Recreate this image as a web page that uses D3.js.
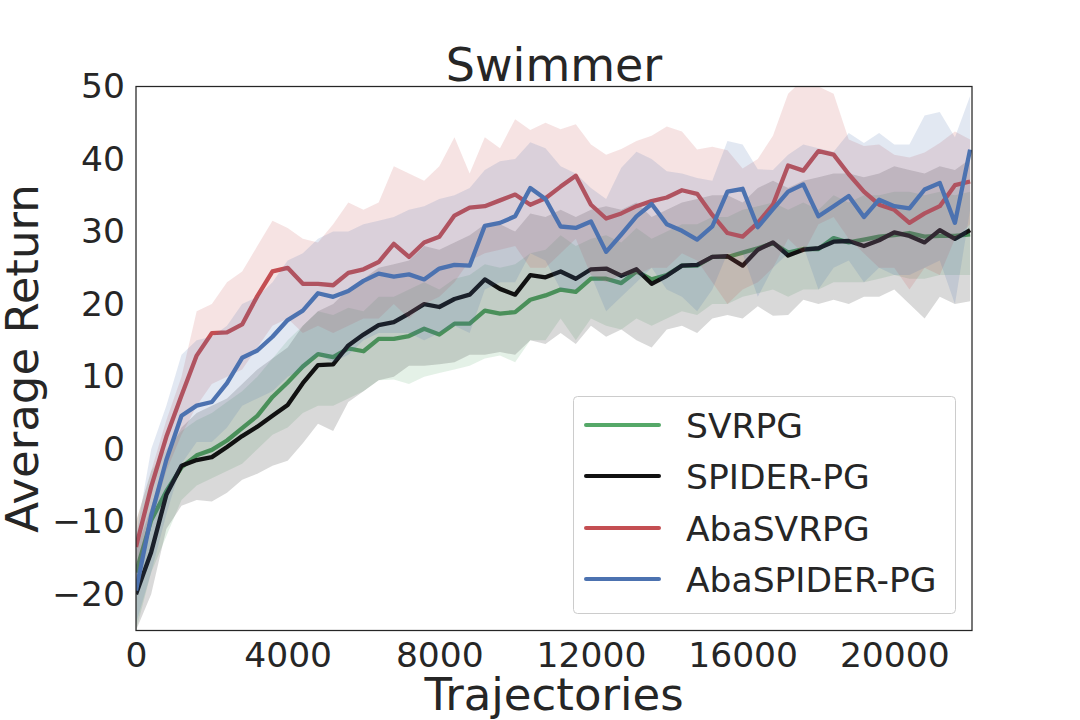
<!DOCTYPE html>
<html><head><meta charset="utf-8">
<script src="https://cdn.jsdelivr.net/npm/d3@7"></script>
<style>
body{margin:0;background:#fff}
svg{display:block}
text{font-family:"DejaVu Sans",sans-serif;fill:#262626}
</style>
</head><body>
<svg id="chart" width="1080" height="720"></svg>
<script>
const trajectories = [0,400,800,1200,1600,2000,2400,2800,3200,3600,4000,4400,4800,5200,5600,6000,6400,6800,7200,7600,8000,8400,8800,9200,9600,10000,10400,10800,11200,11600,12000,12400,12800,13200,13600,14000,14400,14800,15200,15600,16000,16400,16800,17200,17600,18000,18400,18800,19200,19600,20000,20400,20800,21200,21600,22000];

const svrpgMean = [-17,-9.8,-5.8,-2.5,-0.85,-0.1,1.2,2.9,4.6,7.2,9.2,11.4,13.1,12.7,13.9,13.5,15.2,15.2,15.6,16.6,15.8,17.3,17.3,19.1,18.7,18.9,20.6,21.2,22.0,21.7,23.5,23.5,22.9,24.5,23.4,24.0,25.3,25.3,26.5,26.5,27.1,27.7,28.4,27.1,27.6,27.6,29.1,28.5,28.9,29.3,29.5,29.8,29.3,29.4,29.4,29.6];
const svrpgUpper = [-10,-3,0,2.5,4,5,6.5,8,10,12.5,15,17,19,18.5,19.5,19,21,21,22,23,22,23.5,24,25.5,25,25.5,27,27.5,29.5,28,29,29.5,28.5,30.5,29,30,31,31,32,32,33,33.5,34,33,34,33,35,34,35,35,35.5,35.5,35,35.5,35,35.5];
const svrpgLower = [-25,-17,-12,-7,-5,-4,-3,-2,0,2,3,5,6,6,7,8,9.5,9.6,9,10,10.5,11,11.5,12.5,12.9,12,15,15,18,15,18,17,16.5,18,17,18,19,18.5,20,20,21,21.5,22,21,22,22,23,23,23,23.5,24,23.5,23.5,24,24,24];

const spiderMean = [-20,-14.2,-6.3,-2.3,-1.5,-1.1,0.3,1.8,3.1,4.6,6.1,9.1,11.6,11.7,14.3,15.8,17.1,17.5,18.7,20.0,19.6,20.7,21.3,23.4,22.1,21.3,24.0,23.7,24.5,23.5,24.8,24.9,23.9,24.8,22.8,23.9,25.3,25.4,26.5,26.6,25.3,27.5,28.5,26.7,27.5,27.7,28.6,28.7,28.0,28.8,29.9,29.4,28.5,30.2,29.0,30.2];
const spiderUpper = [-14,-8,-1,3,5,6,7,9,11,12.5,14,17,19,20,22,23.5,25,25.5,26,28,27.5,28.5,29.5,31,31,30,32.5,32,33,32,33,33.5,33,34,32,33,34,34.5,35,35,34,36,37,36,37,37.5,38,38,37.5,38,39,38.5,38,39,38.5,40];
const spiderLower = [-25,-20,-11,-7.8,-7,-7.2,-6,-4.2,-3.4,-2.3,-1.6,0.8,3.5,2.5,6.5,8,9.5,10,11.5,11.5,11.7,12,13,13,13.4,13,15,14.5,16,14.5,17,15.5,16.5,15,14,16.5,17,16,18,18.5,18,19.7,18.4,18.5,20.6,20,20.6,20,21,21,22,20,18,21,20,20.4];

const abaSvrpgMean = [-13.5,-5.2,1.7,7.4,12.9,16.0,16.1,17.2,21.1,24.5,25.0,22.8,22.8,22.6,24.3,24.8,25.8,28.3,26.5,28.5,29.3,32.2,33.3,33.5,34.3,35.1,33.7,34.6,36.2,37.7,33.7,31.8,32.5,33.5,34.2,34.7,35.7,35.2,32.3,29.8,29.3,31.2,33.7,39.1,38.4,41.1,40.6,37.9,35.5,33.7,33.0,31.2,32.5,33.5,36.4,36.9];
const abaSvrpgUpper = [-10,-3,4,10,19,20,23,24.5,28,31.5,30.5,29,28.5,31,34,33,34,39,38,37,39,43,38,43,41.5,45.5,44,45,44.1,44.8,42.0,40.6,41.4,42.5,43.2,44.5,43.8,41.3,41.7,41.2,38.7,40.0,43.2,49,51,50,49,42.7,41.8,42.0,40.6,40.2,40.9,42.2,43.8,42.7];
const abaSvrpgLower = [-18,-10,-3,2,6,9,10,11,14,17,18,16,17,16,17,18,18,20,18,20,21,23,26,27,27.5,28,25,25,27,29,24,23,24,24,25,25,27,26,23,20,22,23,25,29,27,31,32,29,27,25,25,22,25,24,29,31];

const abaSpiderMean = [-19.5,-9.2,-1.5,4.6,6.0,6.5,9.1,12.6,13.6,15.5,17.8,19.1,21.5,21.0,21.8,23.2,24.2,23.8,24.1,23.4,24.9,25.4,25.3,30.8,31.2,32.1,36.0,34.5,30.7,30.5,31.4,27.2,29.6,32.1,33.8,31.0,30.1,28.9,30.7,35.5,35.9,30.6,33.1,35.5,36.5,32.1,33.5,34.9,32.0,34.4,33.5,33.2,35.8,36.7,31.2,41.3];
const abaSpiderUpper = [-12,0,6,13,15,15.5,17,20,21,23,26,27,29,30,30,31,31.5,32,33,33.5,34.5,35,36,38.5,39.7,40,42.3,41.5,39,38,36,34.5,38.8,41,40,38.3,38,37.4,37,42.5,42,38.6,38.5,40.6,42,41.5,41,43.6,42.2,43.6,42,42,46,46.5,43,48.7];
const abaSpiderLower = [-24,-17,-9,-2,1,1,3,6,7,8,10,11,13,12,13,15,16,16,16,15,16,17,16,22,23,23,27,26,22,22,24,19,21,23,25,22,21,19,22,27,27,21,25,27,28,22,25,26,23,25,24,24,25,26,20,33];

const seriesNames = ["SVRPG","SPIDER-PG","AbaSVRPG","AbaSPIDER-PG"];
const seriesColors = ["#55a868","#111111","#c44e52","#4c72b0"];
const xTicks = [0,4000,8000,12000,16000,20000];
const yTicks = [-20,-10,0,10,20,30,40,50];

const series = [
  {name:seriesNames[0], color:seriesColors[0], mean:svrpgMean, upper:svrpgUpper, lower:svrpgLower},
  {name:seriesNames[1], color:seriesColors[1], mean:spiderMean, upper:spiderUpper, lower:spiderLower},
  {name:seriesNames[2], color:seriesColors[2], mean:abaSvrpgMean, upper:abaSvrpgUpper, lower:abaSvrpgLower},
  {name:seriesNames[3], color:seriesColors[3], mean:abaSpiderMean, upper:abaSpiderUpper, lower:abaSpiderLower}
];

const L = 136, R = 972, T = 86.5, B = 630.5;
const svg = d3.select("#chart");
const x = d3.scaleLinear().domain([0, 22050]).range([L, R]);
const y = d3.scaleLinear().domain([-25, 50]).range([B, T]);

svg.append("defs").append("clipPath").attr("id","plotclip")
  .append("rect").attr("x",L).attr("y",T).attr("width",R-L).attr("height",B-T);

const plot = svg.append("g").attr("clip-path","url(#plotclip)");

const area = d3.area()
  .x((d,i)=>x(trajectories[i]))
  .y0(d=>y(d[0])).y1(d=>y(d[1]));
const line = d3.line().x((d,i)=>x(trajectories[i])).y(d=>y(d));

series.forEach(s=>{
  const band = s.mean.map((m,i)=>[s.lower[i], s.upper[i]]);
  plot.append("path").datum(band).attr("d",area)
    .attr("fill",s.color).attr("fill-opacity",0.16).attr("stroke","none");
  plot.append("path").datum(s.mean).attr("d",line)
    .attr("fill","none").attr("stroke",s.color).attr("stroke-width",4.3)
    .attr("stroke-linejoin","round").attr("stroke-linecap","butt");
});

// axes
const fmt = d3.format("d");
const xAxis = svg.append("g").attr("transform",`translate(0,${B})`)
  .call(d3.axisBottom(x).tickValues(xTicks).tickFormat(fmt).tickSize(0).tickPadding(12.5));
const yAxis = svg.append("g").attr("transform",`translate(${L},0)`)
  .call(d3.axisLeft(y).tickValues(yTicks).tickFormat(fmt).tickSize(0).tickPadding(11));
[xAxis,yAxis].forEach(a=>{
  a.select(".domain").remove();
  a.selectAll("text").attr("font-size","34.5px").attr("font-family","DejaVu Sans").attr("fill","#262626");
});

// frame
svg.append("rect").attr("x",L).attr("y",T).attr("width",R-L).attr("height",B-T)
  .attr("fill","none").attr("stroke","#262626").attr("stroke-width",1.25);

// title & labels
svg.append("text").attr("x",(L+R)/2).attr("y",81).attr("text-anchor","middle")
  .attr("font-size","46px").text("Swimmer");
svg.append("text").attr("x",(L+R)/2).attr("y",710).attr("text-anchor","middle")
  .attr("font-size","45px").text("Trajectories");
svg.append("text").attr("transform",`translate(38,${(T+B)/2}) rotate(-90)`)
  .attr("text-anchor","middle").attr("font-size","45px").text("Average Return");

// legend
const lg = svg.append("g");
lg.append("rect").attr("x",573.5).attr("y",396.5).attr("width",382).attr("height",217)
  .attr("rx",4).attr("fill","#fff").attr("fill-opacity",0.8).attr("stroke","#cccccc").attr("stroke-width",1);
const legY = [425,476,528,579];
series.forEach((s,i)=>{
  lg.append("line").attr("x1",586).attr("x2",659).attr("y1",legY[i]).attr("y2",legY[i])
    .attr("stroke",s.color).attr("stroke-width",4).attr("stroke-linecap","round");
  lg.append("text").attr("x",686).attr("y",legY[i]+12.5).attr("font-size","34.5px").text(s.name);
});
</script>
</body></html>
